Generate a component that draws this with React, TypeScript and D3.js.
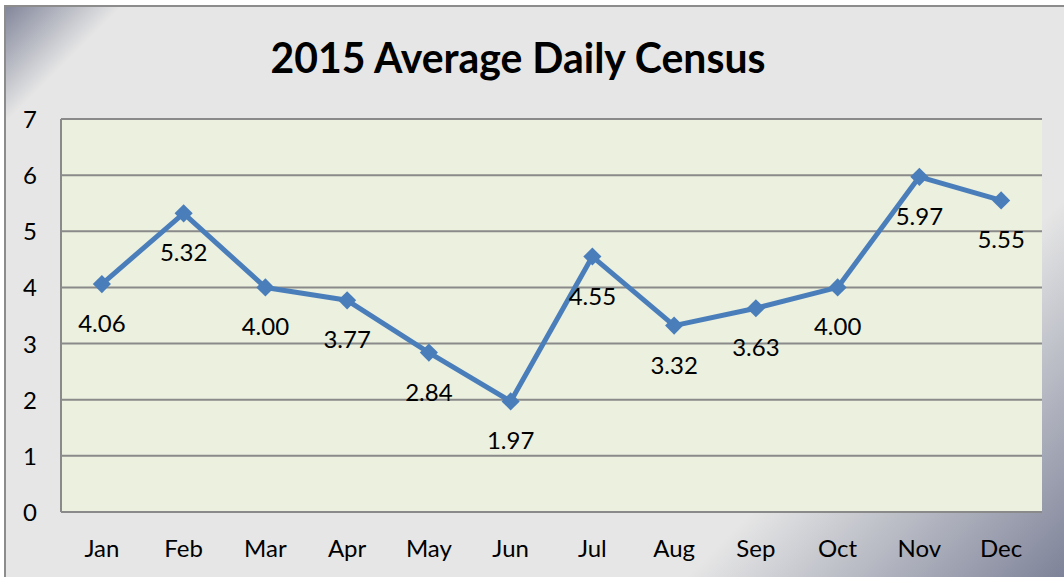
import React from "react";
import * as d3 from "d3";

const months = ["Jan", "Feb", "Mar", "Apr", "May", "Jun", "Jul", "Aug", "Sep", "Oct", "Nov", "Dec"];
const census = [4.06, 5.32, 4.0, 3.77, 2.84, 1.97, 4.55, 3.32, 3.63, 4.0, 5.97, 5.55];
const yTicks = [0, 1, 2, 3, 4, 5, 6, 7];
const title = "2015 Average Daily Census";

const W = 1064;
const H = 577;
const plot = { left: 61, right: 1042, top: 119, bottom: 512 };
const FONT = "Lato, 'Open Sans', sans-serif";

export default function App() {
  const x = d3.scaleBand<string>().domain(months).range([plot.left, plot.right]);
  const y = d3.scaleLinear().domain([0, 7]).range([plot.bottom, plot.top]);
  const cx = (m: string) => (x(m) as number) + x.bandwidth() / 2;
  const line = d3
    .line<number>()
    .x((_, i) => cx(months[i]))
    .y((d) => y(d));
  const diamond = d3.symbol().type(d3.symbolDiamond2).size(210)();

  return (
    <svg
      width={W}
      height={H}
      style={{ position: "absolute", left: 0, top: 0, display: "block" }}
    >
      <defs>
        <linearGradient id="bg" gradientUnits="userSpaceOnUse" x1={0} y1={0} x2={820} y2={820}>
          <stop offset={0} stopColor="#777c92" />
          <stop offset={0.078} stopColor="#e6e6e6" />
          <stop offset={0.77} stopColor="#e6e6e6" />
          <stop offset={1} stopColor="#7e8399" />
        </linearGradient>
      </defs>
      <rect x={0} y={0} width={W} height={H} fill="#ffffff" />
      <rect x={5} y={6} width={W + 10} height={H + 10} fill="url(#bg)" stroke="#8c8c8c" strokeWidth={2} />
      <text
        x={518}
        y={73}
        textAnchor="middle"
        fontFamily={FONT}
        fontWeight="bold"
        fontSize={42}
        textLength={495}
        lengthAdjust="spacingAndGlyphs"
        fill="#000"
      >
        {title}
      </text>
      <rect
        x={plot.left}
        y={plot.top}
        width={plot.right - plot.left}
        height={plot.bottom - plot.top}
        fill="#ebf0df"
      />
      {yTicks.map((t) => (
        <line
          key={"g" + t}
          x1={plot.left}
          x2={plot.right}
          y1={y(t)}
          y2={y(t)}
          stroke="#8a8a8a"
          strokeWidth={2}
        />
      ))}
      <line x1={plot.left} x2={plot.left} y1={plot.top} y2={plot.bottom} stroke="#8a8a8a" strokeWidth={2} />
      {yTicks.map((t) => (
        <text
          key={"y" + t}
          x={30}
          y={y(t) + 9}
          textAnchor="middle"
          fontFamily={FONT}
          fontSize={24}
          fill="#000"
        >
          {t}
        </text>
      ))}
      {months.map((m) => (
        <text
          key={"x" + m}
          x={cx(m)}
          y={557}
          textAnchor="middle"
          fontFamily={FONT}
          fontSize={24}
          fill="#000"
        >
          {m}
        </text>
      ))}
      <path d={line(census) || ""} fill="none" stroke="#4a7ebb" strokeWidth={5} strokeLinejoin="round" />
      {census.map((v, i) => (
        <path
          key={"m" + i}
          d={diamond || ""}
          transform={`translate(${cx(months[i])},${y(v)})`}
          fill="#4a7ebb"
        />
      ))}
      {census.map((v, i) => (
        <text
          key={"l" + i}
          x={cx(months[i])}
          y={y(v) + 48}
          textAnchor="middle"
          fontFamily={FONT}
          fontSize={24}
          fill="#000"
        >
          {v.toFixed(2)}
        </text>
      ))}
    </svg>
  );
}
